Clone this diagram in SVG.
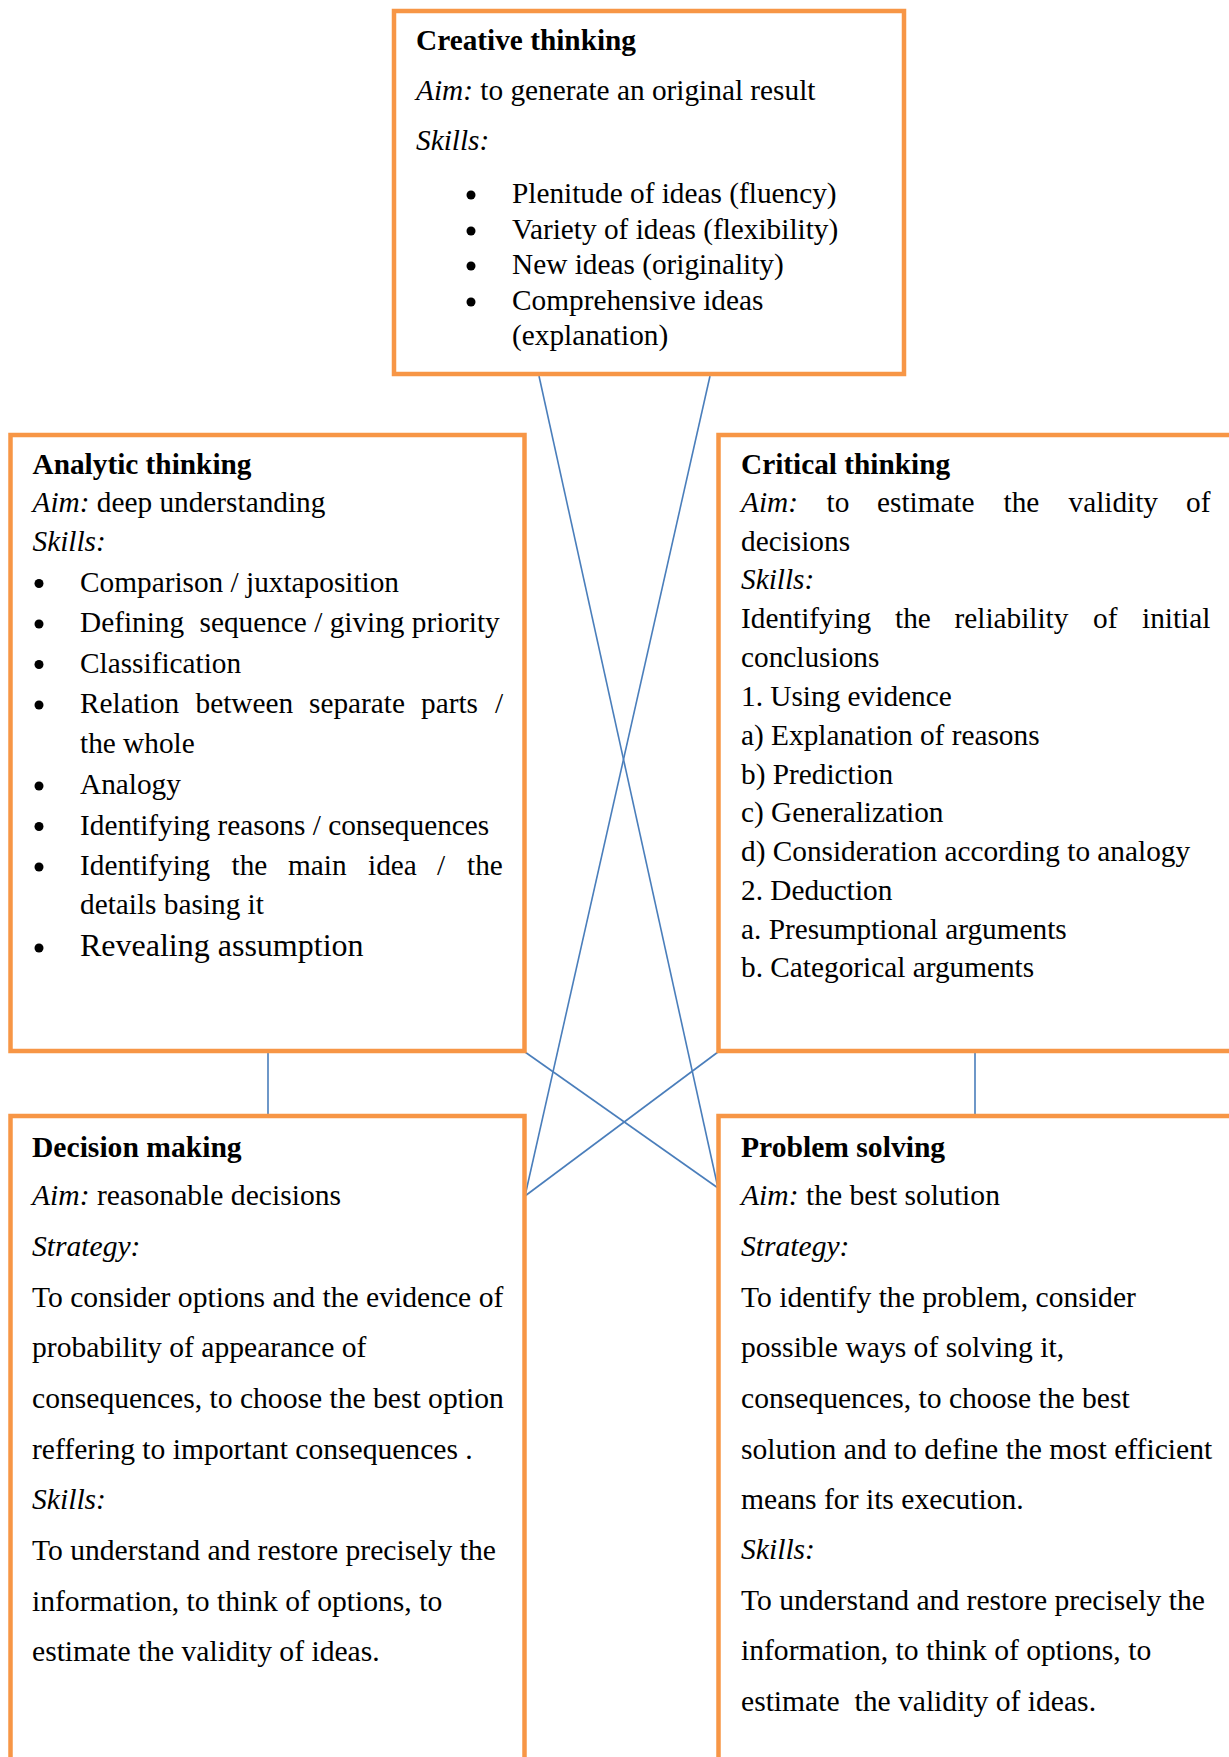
<svg xmlns="http://www.w3.org/2000/svg" width="1229" height="1757" viewBox="0 0 1229 1757">
<style>
.box{fill:#ffffff;stroke:#F79646;stroke-width:4.5}
.t{font-family:"Liberation Serif","Times New Roman",serif;font-size:29.3px;fill:#000}
.lo .t{font-size:29.6px}
.b{font-weight:bold}
.i{font-style:italic}
.big{font-size:32px}
.con{stroke:#4A7EBB;stroke-width:1.6;fill:none}
.dot{fill:#000}
</style>
<rect width="1229" height="1757" fill="#ffffff"/>
<g id="connectors">
<line class="con" x1="539" y1="376" x2="718" y2="1188"/>
<line class="con" x1="710" y1="376" x2="525" y2="1196"/>
<line class="con" x1="525" y1="1052" x2="718" y2="1188"/>
<line class="con" x1="718" y1="1052" x2="525" y2="1196"/>
<line class="con" x1="268" y1="1053" x2="268" y2="1114"/>
<line class="con" x1="975" y1="1053" x2="975" y2="1114"/>
</g>
<g id="creative">
<rect class="box" x="394" y="11" width="510" height="363"/>
<text class="t b" x="416" y="50">Creative thinking</text>
<text class="t" x="416" y="100"><tspan class="i">Aim:</tspan> to generate an original result</text>
<text class="t i" x="416" y="150">Skills:</text>
<circle class="dot" cx="471" cy="195" r="4.5"/>
<circle class="dot" cx="471" cy="231" r="4.5"/>
<circle class="dot" cx="471" cy="266" r="4.5"/>
<circle class="dot" cx="471" cy="302" r="4.5"/>
<text class="t" x="512" y="203">Plenitude of ideas (fluency)</text>
<text class="t" x="512" y="239">Variety of ideas (flexibility)</text>
<text class="t" x="512" y="274">New ideas (originality)</text>
<text class="t" x="512" y="310">Comprehensive ideas</text>
<text class="t" x="512" y="345">(explanation)</text>
</g>
<g id="analytic">
<rect class="box" x="10.5" y="435" width="514" height="616"/>
<text class="t b" x="32.5" y="474">Analytic thinking</text>
<text class="t" x="32.5" y="512"><tspan class="i">Aim:</tspan> deep understanding</text>
<text class="t i" x="32.5" y="551">Skills:</text>
<circle class="dot" cx="39" cy="583.5" r="4.5"/>
<circle class="dot" cx="39" cy="624" r="4.5"/>
<circle class="dot" cx="39" cy="664.5" r="4.5"/>
<circle class="dot" cx="39" cy="705" r="4.5"/>
<circle class="dot" cx="39" cy="786" r="4.5"/>
<circle class="dot" cx="39" cy="826.5" r="4.5"/>
<circle class="dot" cx="39" cy="867" r="4.5"/>
<circle class="dot" cx="39" cy="948" r="4.5"/>
<text class="t" x="80" y="591.5">Comparison / juxtaposition</text>
<text class="t" y="632"><tspan x="80">Defining</tspan><tspan x="199.5">sequence / giving priority</tspan></text>
<text class="t" x="80" y="672.5">Classification</text>
<text class="t" y="713"><tspan x="80">Relation</tspan><tspan x="195.5">between</tspan><tspan x="309">separate</tspan><tspan x="421">parts</tspan><tspan x="495">/</tspan></text>
<text class="t" x="80" y="753">the whole</text>
<text class="t" x="80" y="794">Analogy</text>
<text class="t" x="80" y="834.5">Identifying reasons / consequences</text>
<text class="t" y="875"><tspan x="80">Identifying</tspan><tspan x="231.5">the</tspan><tspan x="288">main</tspan><tspan x="368">idea</tspan><tspan x="437">/</tspan><tspan x="467">the</tspan></text>
<text class="t" x="80" y="914">details basing it</text>
<text class="t big" x="80" y="956">Revealing assumption</text>
</g>
<g id="critical">
<rect class="box" x="718.5" y="435" width="540" height="616"/>
<text class="t b" x="741" y="474">Critical thinking</text>
<text class="t" y="512"><tspan class="i" x="741">Aim:</tspan><tspan x="826.5">to</tspan><tspan x="877">estimate</tspan><tspan x="1003.5">the</tspan><tspan x="1068.5">validity</tspan><tspan x="1186">of</tspan></text>
<text class="t" x="741" y="550.5">decisions</text>
<text class="t i" x="741" y="589">Skills:</text>
<text class="t" y="628"><tspan x="741">Identifying</tspan><tspan x="895">the</tspan><tspan x="954.5">reliability</tspan><tspan x="1093">of</tspan><tspan x="1142">initial</tspan></text>
<text class="t" x="741" y="667">conclusions</text>
<text class="t" x="741" y="706">1. Using evidence</text>
<text class="t" x="741" y="744.5">a) Explanation of reasons</text>
<text class="t" x="741" y="783.5">b) Prediction</text>
<text class="t" x="741" y="822">c) Generalization</text>
<text class="t" x="741" y="861">d) Consideration according to analogy</text>
<text class="t" x="741" y="899.5">2. Deduction</text>
<text class="t" x="741" y="938.5">a. Presumptional arguments</text>
<text class="t" x="741" y="977">b. Categorical arguments</text>
</g>
<g id="decision" class="lo">
<rect class="box" x="10.5" y="1116" width="514" height="700"/>
<text class="t b" x="32" y="1156.5">Decision making</text>
<text class="t" x="32" y="1204.5"><tspan class="i">Aim:</tspan> reasonable decisions</text>
<text class="t i" x="32" y="1256">Strategy:</text>
<text class="t" x="32" y="1306.5">To consider options and the evidence of</text>
<text class="t" x="32" y="1357">probability of appearance of</text>
<text class="t" x="32" y="1408">consequences, to choose the best option</text>
<text class="t" x="32" y="1458.5">reffering to important consequences .</text>
<text class="t i" x="32" y="1509">Skills:</text>
<text class="t" x="32" y="1560">To understand and restore precisely the</text>
<text class="t" x="32" y="1610.5">information, to think of options, to</text>
<text class="t" x="32" y="1661">estimate the validity of ideas.</text>
</g>
<g id="problem" class="lo">
<rect class="box" x="718.5" y="1116" width="540" height="700"/>
<text class="t b" x="741" y="1156.5">Problem solving</text>
<text class="t" x="741" y="1204.5"><tspan class="i">Aim:</tspan> the best solution</text>
<text class="t i" x="741" y="1256">Strategy:</text>
<text class="t" x="741" y="1306.5">To identify the problem, consider</text>
<text class="t" x="741" y="1357">possible ways of solving it,</text>
<text class="t" x="741" y="1408">consequences, to choose the best</text>
<text class="t" x="741" y="1458.5">solution and to define the most efficient</text>
<text class="t" x="741" y="1509">means for its execution.</text>
<text class="t i" x="741" y="1559">Skills:</text>
<text class="t" x="741" y="1609.5">To understand and restore precisely the</text>
<text class="t" x="741" y="1660">information, to think of options, to</text>
<text class="t" x="741" y="1711" xml:space="preserve">estimate  the validity of ideas.</text>
</g>
</svg>
